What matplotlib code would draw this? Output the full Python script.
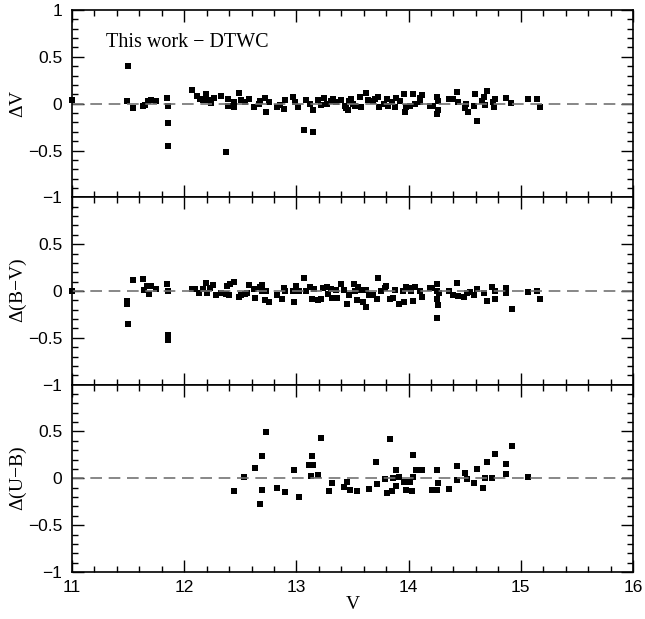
import numpy as np
import matplotlib
matplotlib.use("Agg")
import matplotlib.pyplot as plt
from matplotlib.ticker import MultipleLocator, FixedLocator, FuncFormatter

# ---- data ----
v_dv = [11.00, 11.50, 11.49, 11.54, 11.63, 11.65, 11.68, 11.70, 11.75, 11.85,
        11.86, 11.86, 11.86, 12.07, 12.11, 12.14, 12.17, 12.19, 12.22, 12.24,
        12.27, 12.33, 12.37, 12.39, 12.39, 12.44, 12.44, 12.49, 12.51, 12.54,
        12.58, 12.62, 12.67, 12.68, 12.72, 12.73, 12.76, 12.83, 12.85, 12.89,
        12.90, 12.97, 12.99, 13.01, 13.07, 13.09, 13.12, 13.15, 13.15, 13.19,
        13.22, 13.25, 13.27, 13.31, 13.33, 13.35,
        13.40, 13.43, 13.46, 13.49, 13.50, 13.44, 13.47, 13.52, 13.57, 13.58,
        13.62, 13.64, 13.68, 13.70, 13.73, 13.74, 13.78, 13.81, 13.82, 13.85,
        13.88, 13.89, 13.92, 13.96, 13.97, 13.98, 14.01, 14.04, 14.06, 14.10,
        14.12, 14.10, 14.19, 14.22, 14.25, 14.25, 14.26, 14.26, 14.36, 14.40,
        14.43, 14.44, 14.51, 14.50, 14.53, 14.58, 14.59, 14.61, 14.65, 14.67,
        14.68, 14.70, 14.75, 14.76, 14.77, 14.87, 14.91, 15.06, 15.14, 15.17]
dv = [0.04, 0.40, 0.03, -0.05, -0.03, -0.01, 0.03, 0.04, 0.03, 0.06,
      -0.03, -0.21, -0.45, 0.15, 0.08, 0.05, 0.04, 0.10, 0.04, 0.01,
      0.06, 0.08, -0.52, 0.05, -0.03, -0.04, 0.02, 0.11, 0.04, 0.02,
      0.05, -0.04, 0.00, 0.03, 0.06, -0.09, 0.02, -0.04, -0.01, -0.06,
      0.04, 0.07, 0.02, -0.04, -0.28, 0.04, 0.00, -0.07, -0.30, 0.04,
      -0.01, 0.06, 0.00, 0.03, 0.05, 0.02,
      0.04, -0.03, -0.07, 0.05, 0.00, -0.05, 0.03, -0.02, 0.07, -0.04,
      0.11, 0.04, 0.03, 0.05, 0.07, -0.04, 0.00, 0.05, -0.03, 0.02,
      -0.04, 0.06, 0.03, 0.10, -0.09, -0.04, -0.03, 0.10, 0.00, 0.06,
      0.09, 0.02, -0.03, -0.02, 0.07, -0.11, -0.07, 0.03, 0.05, 0.05,
      0.12, 0.02, 0.00, -0.05, -0.09, -0.02, 0.10, -0.19, 0.03, 0.07,
      -0.01, 0.14, 0.02, -0.04, 0.05, 0.06, 0.01, 0.05, 0.05, -0.04]

v_dbv = [11.00, 11.49, 11.49, 11.50, 11.54, 11.63, 11.64, 11.67, 11.70, 11.69,
         11.75, 11.85, 11.86, 11.86, 11.86, 12.07, 12.10, 12.13, 12.17, 12.19,
         12.20, 12.23, 12.26, 12.28, 12.33, 12.37, 12.38, 12.40, 12.41, 12.44,
         12.49, 12.51, 12.54, 12.56, 12.58, 12.62, 12.63, 12.68, 12.69, 12.69,
         12.72, 12.73, 12.76, 12.83, 12.87, 12.89, 12.90, 12.97, 12.98, 13.00,
         13.02, 13.07, 13.09, 13.12, 13.14, 13.16, 13.19, 13.22, 13.24, 13.27,
         13.28, 13.31, 13.32, 13.35, 13.36,
         13.40, 13.42, 13.45, 13.47, 13.51, 13.52, 13.54, 13.55, 13.57, 13.59,
         13.62, 13.62, 13.65, 13.68, 13.72, 13.73, 13.75, 13.79, 13.80, 13.83,
         13.86, 13.88, 13.91, 13.95, 13.96, 13.98, 14.00, 14.02, 14.04, 14.06,
         14.10, 14.12, 14.19, 14.21, 14.25, 14.25, 14.25, 14.26, 14.25, 14.27,
         14.36, 14.40, 14.43, 14.44, 14.49, 14.52, 14.55, 14.58, 14.61, 14.67,
         14.70, 14.74, 14.77, 14.77, 14.87, 14.87, 14.92, 15.06, 15.14, 15.17]
dbv = [0.00, -0.11, -0.14, -0.35, 0.12, 0.13, 0.01, 0.05, 0.05, -0.03,
       0.02, 0.08, 0.00, -0.47, -0.52, 0.02, 0.02, -0.02, 0.02, 0.09,
       -0.02, 0.03, 0.06, -0.04, -0.02, -0.03, 0.05, -0.04, 0.07, 0.10,
       -0.06, -0.04, -0.03, -0.02, 0.06, 0.02, -0.07, 0.04, 0.06, 0.00,
       -0.10, 0.00, -0.12, -0.04, -0.09, 0.03, 0.00, 0.00, -0.12, 0.05,
       0.00, 0.14, 0.00, 0.04, -0.09, 0.02, -0.10, -0.09, 0.03, 0.04,
       -0.03, 0.02, -0.07, 0.01, -0.08,
       0.08, 0.01, -0.14, -0.04, 0.08, 0.00, -0.10, 0.04, 0.01, -0.12,
       -0.17, 0.01, -0.04, -0.04, -0.09, 0.14, 0.00, 0.03, 0.05, -0.09,
       -0.07, 0.01, -0.14, 0.00, -0.12, 0.04, 0.03, 0.00, -0.11, 0.04,
       0.00, -0.06, 0.03, 0.03, 0.00, 0.07, -0.09, -0.15, -0.29, -0.02,
       0.00, -0.04, 0.09, -0.05, -0.06, -0.02, -0.01, -0.04, 0.02, -0.02,
       -0.11, 0.04, -0.09, 0.00, 0.03, -0.02, -0.19, -0.01, 0.00, -0.09]

v_dub = [12.44, 12.53, 12.63, 12.68, 12.69, 12.69, 12.73, 12.83, 12.90, 12.98,
         13.02, 13.11, 13.13, 13.14, 13.15, 13.19, 13.22, 13.29, 13.32,
         13.42, 13.45, 13.48, 13.54, 13.65, 13.71, 13.72, 13.79, 13.81, 13.83,
         13.85, 13.86, 13.89, 13.89, 13.91, 13.96, 13.98, 14.01, 14.03, 14.04,
         14.04, 14.07, 14.12, 14.21, 14.25, 14.25, 14.26, 14.36, 14.43, 14.43,
         14.50, 14.52, 14.58, 14.61, 14.66, 14.68, 14.70, 14.74, 14.77, 14.87,
         14.87, 14.92, 15.06]
dub = [-0.14, 0.01, 0.11, -0.27, 0.24, -0.12, 0.49, -0.10, -0.15, 0.09,
       -0.20, 0.14, 0.03, 0.24, 0.14, 0.04, 0.43, -0.13, -0.05,
       -0.09, -0.04, -0.12, -0.13, -0.11, 0.17, -0.06, -0.01, -0.16, 0.42,
       -0.14, 0.00, -0.08, 0.09, 0.01, -0.04, -0.12, -0.04, -0.13, 0.25,
       0.01, 0.09, 0.09, -0.12, -0.12, 0.09, -0.05, -0.11, 0.13, -0.02,
       0.06, -0.01, -0.05, 0.10, -0.10, 0.00, 0.17, 0.00, 0.26, 0.15,
       0.05, 0.35, 0.01]

panels = [(v_dv, dv, r'$\Delta$V'),
          (v_dbv, dbv, r'$\Delta$(B$-$V)'),
          (v_dub, dub, r'$\Delta$(U$-$B)')]

plt.rcParams['mathtext.fontset'] = 'custom'
plt.rcParams['mathtext.rm'] = 'Liberation Serif'
plt.rcParams['axes.unicode_minus'] = True

fmt = FuncFormatter(lambda val, pos: ('%g' % val).replace('-', '\u2212'))

fig = plt.figure(figsize=(6.45, 6.19), dpi=100)
left, right = 72 / 645, 633 / 645
top, bottom = 1 - 10 / 619, 1 - 572 / 619
h = (top - bottom) / 3

axes = []
for i, (x, y, label) in enumerate(panels):
    ax = fig.add_axes([left, top - (i + 1) * h, right - left, h])
    ax.plot(x, y, 's', color='k', markersize=3.8, markeredgewidth=0, clip_on=False)
    ax.axhline(0, color='0.45', lw=1.2, dashes=(7, 4))
    ax.set_xlim(11, 16)
    ax.set_ylim(-1, 1)
    ax.xaxis.set_major_locator(MultipleLocator(1))
    ax.xaxis.set_minor_locator(MultipleLocator(0.2))
    ax.yaxis.set_major_locator(MultipleLocator(0.5))
    ax.yaxis.set_minor_locator(MultipleLocator(0.1))
    if i > 0:
        # top label would collide with the panel above
        ax.yaxis.set_major_locator(FixedLocator([-1, -0.5, 0, 0.5]))
        ax.yaxis.set_minor_locator(FixedLocator(np.round(np.arange(-0.9, 1.0, 0.1), 2)))
    ax.xaxis.set_major_formatter(fmt)
    ax.yaxis.set_major_formatter(fmt)
    ax.tick_params(which='both', direction='in', top=True, right=True, width=1.0)
    ax.tick_params(which='major', length=8.5)
    ax.tick_params(which='minor', length=4.3)
    ax.tick_params(axis='y', pad=7)
    ax.tick_params(axis='x', pad=6)
    for lab in ax.get_xticklabels() + ax.get_yticklabels():
        lab.set_fontfamily('Liberation Sans')
        lab.set_fontsize(12.5)
    for s in ax.spines.values():
        s.set_linewidth(1.2)
    ax.set_ylabel(label, fontsize=14, family='Liberation Serif', va='center')
    ax.yaxis.set_label_coords(-0.096, 0.5)
    if i < 2:
        ax.tick_params(axis='x', labelbottom=False)
    axes.append(ax)

axes[0].text(0.06, 0.825, 'This work \u2212 DTWC', transform=axes[0].transAxes,
             fontsize=14.5, family='Liberation Serif', va='center', ha='left')

axes[2].set_xlabel('V', fontsize=14, family='Liberation Serif', va='center')
axes[2].xaxis.set_label_coords(0.5, -0.176)

fig.savefig('out.png', dpi=100)
